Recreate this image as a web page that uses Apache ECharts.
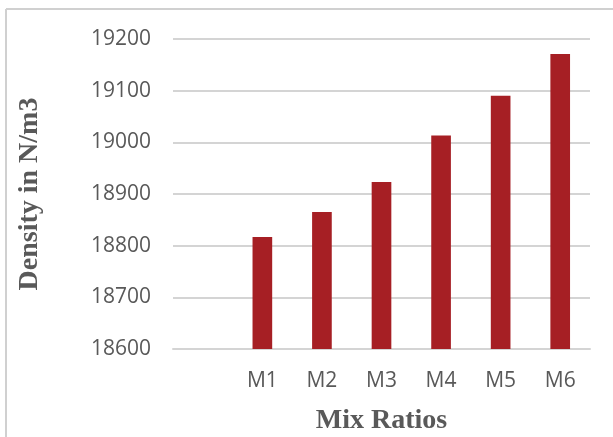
<!DOCTYPE html>
<html lang="en">
<head>
    <meta charset="UTF-8">
    <title>Density vs Mix Ratios</title>
    <script src="https://cdn.jsdelivr.net/npm/echarts@6/dist/echarts.min.js"></script>
    <style>
        html,body{
            height:100%;
            width:100%;
            margin:0;
            padding:0;
            background:#fff;
        }
    </style>
</head>
<body>
    <div id="main" style="width:613px;height:437px"></div>
    <script>
        // first slot is empty in the original chart
        var mixRatios = ['', 'M1', 'M2', 'M3', 'M4', 'M5', 'M6'];
        var density = ['-', 18817, 18865, 18923, 19013, 19090, 19171];
        var yTicks = { min: 18600, max: 19200, step: 100 };

        var myChart = echarts.init(document.getElementById('main'));
        var option = {
            animation: false,
            graphic: [
                { type: 'line', shape: { x1: 6, y1: 9, x2: 613, y2: 9 }, style: { stroke: '#d0d0d0', lineWidth: 2 } },
                { type: 'line', shape: { x1: 6, y1: 9, x2: 6, y2: 437 }, style: { stroke: '#d0d0d0', lineWidth: 2 } }
            ],
            grid: { left: 173, right: 23, top: 39, bottom: 88, outerBoundsMode: 'none', containLabel: false },
            xAxis: {
                type: 'category',
                data: mixRatios,
                name: 'Mix Ratios',
                nameLocation: 'middle',
                nameGap: 58,
                nameTextStyle: { fontFamily: 'Liberation Serif', fontWeight: 'bold', fontSize: 28, color: '#595959' },
                axisLine: { show: true, lineStyle: { color: '#d4d4d4', width: 2 } },
                axisTick: { show: false },
                axisLabel: { fontFamily: 'Open Sans', fontSize: 21, color: '#595959', margin: 22 }
            },
            yAxis: {
                type: 'value',
                min: yTicks.min,
                max: yTicks.max,
                interval: yTicks.step,
                name: 'Density in N/m3',
                nameLocation: 'middle',
                nameGap: 129,
                nameTextStyle: { fontFamily: 'Liberation Serif', fontWeight: 'bold', fontSize: 28, color: '#595959' },
                axisLine: { show: false },
                axisTick: { show: false },
                splitLine: { lineStyle: { color: '#d4d4d4', width: 2 } },
                axisLabel: { fontFamily: 'Open Sans', fontSize: 21, color: '#595959', margin: 22, formatter: function (v) { return String(v); } }
            },
            series: [{
                type: 'bar',
                data: density,
                barWidth: '33%',
                itemStyle: { color: '#a61f24' }
            }]
        };
        myChart.setOption(option);
    </script>
</body>
</html>
